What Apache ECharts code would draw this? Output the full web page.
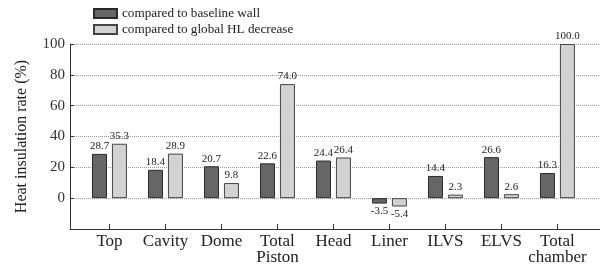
<!DOCTYPE html>
<html>
<head>
<meta charset="utf-8">
<script src="https://cdn.jsdelivr.net/npm/echarts@6/dist/echarts.min.js"></script>
<style>html,body{margin:0;padding:0;background:#fff;}#c{width:600px;height:273px;}</style>
</head>
<body>
<div id="c"></div>
<script>
var categories = ['Top', 'Cavity', 'Dome', 'Total\nPiston', 'Head', 'Liner', 'ILVS', 'ELVS', 'Total\nchamber'];
var baselineWall = [28.7, 18.4, 20.7, 22.6, 24.4, -3.5, 14.4, 26.6, 16.3];
var globalHL = [35.3, 28.9, 9.8, 74.0, 26.4, -5.4, 2.3, 2.6, 100.0];
var seriesNames = ['compared to baseline wall', 'compared to global HL decrease'];
var yTicks = [0, 20, 40, 60, 80, 100];
var yAxisTitle = 'Heat insulation rate (%)';

var FONT = '"Liberation Serif", "DejaVu Serif", serif';
var catIdx = categories.map(function (_, i) { return i; });
var X_MIN = -0.705, X_MAX = 8.76;
var GRID_LEFT = 70, GRID_RIGHT = 0, CHART_W = 600;
var BAR_W = 15, BAR_GAP_PX = 5;
// markers on a bar series are shifted by that series' bar offset; compensate in data units
var pxPerUnit = (CHART_W - GRID_LEFT - GRID_RIGHT) / (X_MAX - X_MIN);
var darkOffset = (BAR_W + BAR_GAP_PX) / 2 / pxPerUnit;

function toData(vals) {
  return vals.map(function (v, i) {
    return { value: [i, v], label: { position: v < 0 ? 'bottom' : 'top' } };
  });
}

var chart = echarts.init(document.getElementById('c'), null, { renderer: 'canvas' });
chart.setOption({
  animation: false,
  backgroundColor: '#fff',
  textStyle: { fontFamily: FONT },
  legend: {
    orient: 'vertical',
    left: 88, top: 2,
    icon: 'rect',
    itemWidth: 23, itemHeight: 9, itemGap: 3,
    textStyle: { fontFamily: FONT, fontSize: 13.2, color: '#222' },
    data: seriesNames
  },
  grid: { left: GRID_LEFT, right: GRID_RIGHT, top: 44, bottom: 44 },
  xAxis: {
    type: 'value',
    min: X_MIN, max: X_MAX,
    axisLine: { show: true, onZero: false, lineStyle: { color: '#333', width: 1 } },
    axisTick: { show: true, inside: true, length: 5, customValues: catIdx, lineStyle: { color: '#333' } },
    axisLabel: {
      customValues: catIdx,
      formatter: function (v) { return categories[Math.round(v)]; },
      fontFamily: FONT, fontSize: 17, color: '#222', margin: 5, lineHeight: 16
    },
    splitLine: { show: false }
  },
  yAxis: {
    type: 'value',
    min: -20, max: 100, interval: 20,
    name: yAxisTitle,
    nameLocation: 'middle', nameGap: 40,
    nameTextStyle: { fontFamily: FONT, fontSize: 16, color: '#222' },
    axisLine: { show: true, onZero: false, lineStyle: { color: '#333', width: 1 } },
    axisTick: { show: true, inside: true, length: 4, customValues: yTicks, lineStyle: { color: '#333' } },
    axisLabel: { customValues: yTicks, fontFamily: FONT, fontSize: 15, color: '#333', margin: 5 },
    splitLine: { show: true, lineStyle: { type: 'dotted', color: '#999', width: 1 } }
  },
  series: [
    {
      name: seriesNames[0], type: 'bar', barWidth: BAR_W, barGap: '33%',
      itemStyle: { color: '#666', borderColor: '#2a2a2a', borderWidth: 1 },
      label: { show: true, distance: 2, fontFamily: FONT, fontSize: 11, color: '#222',
        formatter: function (p) { return p.value[1].toFixed(1); } },
      data: toData(baselineWall),
      markLine: {
        silent: true, symbol: ['none', 'none'], z: 10,
        label: { show: false },
        emphasis: { disabled: true },
        lineStyle: { type: 'solid', color: '#3a3a3a', width: 2, opacity: 1 },
        data: [[{ coord: [X_MIN + darkOffset, 0] }, { coord: [X_MAX + darkOffset, 0] }]]
      }
    },
    {
      name: seriesNames[1], type: 'bar', barWidth: BAR_W, barGap: '33%',
      itemStyle: { color: '#d2d2d2', borderColor: '#444', borderWidth: 1 },
      label: { show: true, distance: 2, fontFamily: FONT, fontSize: 11, color: '#222',
        formatter: function (p) { return p.value[1].toFixed(1); } },
      data: toData(globalHL)
    }
  ]
});
</script>
</body>
</html>
